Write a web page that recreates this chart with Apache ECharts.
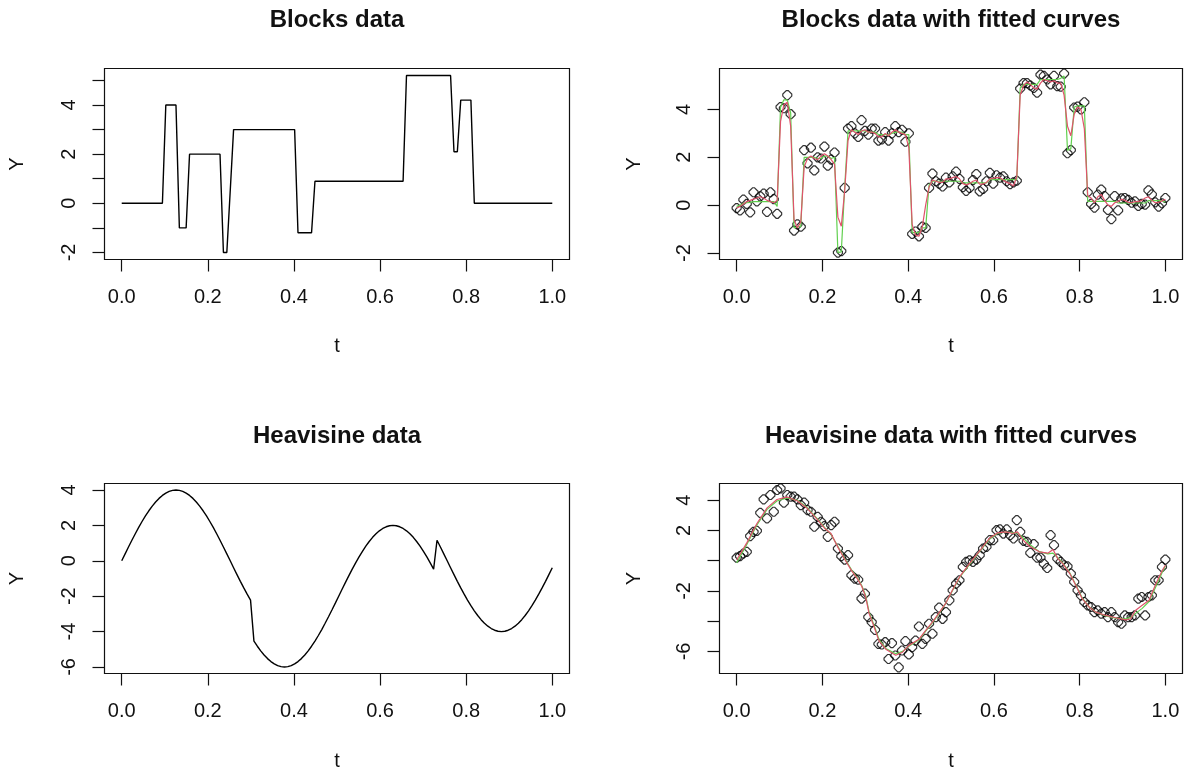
<!DOCTYPE html>
<html>
<head>
<meta charset="utf-8">
<script src="https://cdn.jsdelivr.net/npm/echarts@6/dist/echarts.min.js"></script>
<style>
html,body{margin:0;padding:0;background:#fff;}
#chart{width:1184px;height:771px;}
</style>
</head>
<body>
<div id="chart"></div>
<script>
// ---- sample grid (128 equally spaced t values, plotted from 0 to 1) ----
const tGrid = [
0.0000,0.0079,0.0157,0.0236,0.0315,0.0394,0.0472,0.0551,
0.0630,0.0709,0.0787,0.0866,0.0945,0.1024,0.1102,0.1181,
0.1260,0.1339,0.1417,0.1496,0.1575,0.1654,0.1732,0.1811,
0.1890,0.1969,0.2047,0.2126,0.2205,0.2283,0.2362,0.2441,
0.2520,0.2598,0.2677,0.2756,0.2835,0.2913,0.2992,0.3071,
0.3150,0.3228,0.3307,0.3386,0.3465,0.3543,0.3622,0.3701,
0.3780,0.3858,0.3937,0.4016,0.4094,0.4173,0.4252,0.4331,
0.4409,0.4488,0.4567,0.4646,0.4724,0.4803,0.4882,0.4961,
0.5039,0.5118,0.5197,0.5276,0.5354,0.5433,0.5512,0.5591,
0.5669,0.5748,0.5827,0.5906,0.5984,0.6063,0.6142,0.6220,
0.6299,0.6378,0.6457,0.6535,0.6614,0.6693,0.6772,0.6850,
0.6929,0.7008,0.7087,0.7165,0.7244,0.7323,0.7402,0.7480,
0.7559,0.7638,0.7717,0.7795,0.7874,0.7953,0.8031,0.8110,
0.8189,0.8268,0.8346,0.8425,0.8504,0.8583,0.8661,0.8740,
0.8819,0.8898,0.8976,0.9055,0.9134,0.9213,0.9291,0.9370,
0.9449,0.9528,0.9606,0.9685,0.9764,0.9843,0.9921,1.0000
];

// ---- Blocks: true signal ----
const blocksTrue = [
0,0,0,0,0,0,0,0,
0,0,0,0,0,4,4,4,
4,-1,-1,-1,2,2,2,2,
2,2,2,2,2,2,-2,-2,
0.5,3,3,3,3,3,3,3,
3,3,3,3,3,3,3,3,
3,3,3,3,-1.2,-1.2,-1.2,-1.2,
-1.2,0.9,0.9,0.9,0.9,0.9,0.9,0.9,
0.9,0.9,0.9,0.9,0.9,0.9,0.9,0.9,
0.9,0.9,0.9,0.9,0.9,0.9,0.9,0.9,
0.9,0.9,0.9,0.9,5.2,5.2,5.2,5.2,
5.2,5.2,5.2,5.2,5.2,5.2,5.2,5.2,
5.2,5.2,2.1,2.1,4.2,4.2,4.2,4.2,
0,0,0,0,0,0,0,0,
0,0,0,0,0,0,0,0,
0,0,0,0,0,0,0,0
];

// ---- Blocks: noisy observations ----
const blocksNoisy = [
-0.12,-0.22,0.23,0.05,-0.30,0.54,0.16,0.37,
0.48,-0.28,0.54,0.25,-0.36,4.10,4.05,4.60,
3.80,-1.06,-0.80,-0.90,2.30,1.75,2.40,1.45,
2.00,1.95,2.45,1.65,1.90,2.20,-1.98,-1.92,
0.72,3.20,3.30,3.00,2.85,3.55,3.10,2.95,
3.20,3.20,2.70,2.75,3.05,2.70,3.00,3.30,
3.05,3.15,2.65,3.00,-1.20,-1.10,-1.30,-0.90,
-0.95,0.72,1.32,1.00,0.90,0.78,1.15,0.95,
1.20,1.40,1.10,0.75,0.60,0.72,1.05,1.30,
0.58,0.68,1.00,1.35,0.90,1.25,1.15,1.20,
1.00,0.88,0.95,1.02,4.87,5.10,5.10,5.00,
4.90,4.70,5.45,5.40,5.25,5.05,5.40,4.97,
4.95,5.50,2.17,2.30,4.08,4.12,4.00,4.30,
0.54,0.05,-0.10,0.44,0.65,0.38,-0.20,-0.58,
0.38,-0.22,0.28,0.30,0.22,0.10,0.16,-0.03,
0.05,0.02,0.62,0.45,0.12,-0.06,0.08,0.30
];

// ---- Blocks: fitted curves ----
const blocksFitGreen = [
-0.05,0.00,0.08,0.10,0.12,0.15,0.15,0.15,
0.15,0.15,0.15,0.15,-0.05,4.10,4.40,4.40,
3.85,-0.95,-0.90,-0.90,2.00,2.00,2.00,2.00,
1.95,1.95,2.05,2.05,1.95,2.00,-1.98,-1.95,
0.75,3.10,3.10,3.10,3.10,3.10,3.10,3.05,
3.05,3.05,2.95,2.95,2.95,2.95,3.00,3.05,
3.05,3.05,2.95,2.95,-1.15,-1.15,-1.15,-0.95,
-0.95,0.85,1.00,1.00,1.00,1.00,1.00,1.00,
1.00,1.00,1.00,0.93,0.93,0.93,0.93,0.93,
0.93,0.93,0.93,1.07,1.07,1.07,1.07,1.07,
1.07,1.07,1.07,1.07,4.90,5.05,5.05,5.05,
5.05,5.05,5.25,5.25,5.25,5.25,5.25,5.25,
5.30,5.40,2.30,2.35,4.10,4.15,4.15,4.15,
0.16,0.16,0.16,0.16,0.16,0.16,0.16,0.16,
0.16,0.09,0.09,0.09,0.09,0.09,0.09,0.09,
0.09,0.09,0.19,0.19,0.19,0.19,0.19,0.12
];
const blocksFitRed = [
-0.12,-0.05,0.05,0.15,0.20,0.25,0.30,0.35,
0.30,0.20,0.15,0.10,0.20,3.50,4.20,4.30,
3.30,-0.60,-0.95,-0.70,1.60,1.95,2.05,1.95,
1.90,2.05,2.15,2.05,1.90,1.70,-0.50,-0.88,
0.60,2.70,3.15,3.05,2.95,3.10,3.15,3.05,
3.05,3.00,2.85,2.85,3.00,2.90,3.05,3.15,
3.05,3.00,2.95,2.40,-0.80,-1.25,-1.30,-0.90,
0.00,0.75,1.05,1.00,0.95,0.95,1.10,1.10,
1.15,1.20,1.10,0.90,0.85,0.90,1.00,1.05,
0.88,0.88,0.95,1.10,1.12,1.15,1.15,1.05,
0.95,0.90,0.80,1.20,4.60,5.00,5.15,5.05,
4.90,4.85,5.10,5.25,5.20,5.15,5.20,5.10,
5.10,4.60,3.30,2.90,3.80,4.10,4.00,3.20,
0.40,0.30,0.10,0.35,0.45,0.20,0.00,-0.05,
0.10,0.15,0.25,0.20,0.12,0.10,0.15,0.15,
0.20,0.30,0.35,0.20,0.10,0.12,0.18,0.25
];

// ---- Heavisine: true signal ----
const heaviTrue = [
0,0.392,0.780,1.161,1.531,1.886,2.222,2.538,
2.828,3.092,3.326,3.528,3.696,3.828,3.923,3.981,
4.000,3.981,3.923,3.828,3.696,3.528,3.326,3.092,
2.828,2.538,2.222,1.886,1.531,1.161,0.780,0.392,
0,-0.392,-0.780,-1.161,-1.531,-1.886,-2.222,-4.538,
-4.828,-5.092,-5.326,-5.528,-5.696,-5.828,-5.923,-5.981,
-6.000,-5.981,-5.923,-5.828,-5.696,-5.528,-5.326,-5.092,
-4.828,-4.538,-4.222,-3.886,-3.531,-3.161,-2.780,-2.392,
-2.000,-1.608,-1.220,-0.839,-0.469,-0.114,0.222,0.538,
0.828,1.092,1.326,1.528,1.696,1.828,1.923,1.981,
2.000,1.981,1.923,1.828,1.696,1.528,1.326,1.092,
0.828,0.538,0.222,-0.114,-0.469,1.161,0.780,0.392,
0,-0.392,-0.780,-1.161,-1.531,-1.886,-2.222,-2.538,
-2.828,-3.092,-3.326,-3.528,-3.696,-3.828,-3.923,-3.981,
-4.000,-3.981,-3.923,-3.828,-3.696,-3.528,-3.326,-3.092,
-2.828,-2.538,-2.222,-1.886,-1.531,-1.161,-0.780,-0.392
];

// ---- Heavisine: noisy observations ----
const heaviNoisy = [
0.20,0.30,0.48,0.59,1.63,1.91,1.98,3.17,
4.06,2.80,4.35,3.24,4.68,4.79,3.84,4.35,
4.24,4.24,4.06,3.68,3.84,3.35,3.24,2.25,
2.90,2.58,2.29,1.58,2.36,2.58,0.81,0.30,
0.08,0.37,-0.96,-1.18,-1.25,-2.50,-2.18,-3.73,
-4.06,-4.57,-5.50,-5.54,-5.39,-6.50,-5.45,-6.27,
-7.05,-5.94,-5.32,-6.20,-5.72,-5.28,-4.35,-5.50,
-5.17,-4.17,-4.83,-3.73,-3.10,-3.84,-3.40,-2.62,
-1.96,-1.52,-1.29,-0.41,-0.08,0.03,-0.08,0.08,
0.37,0.81,0.92,1.36,1.36,2.02,2.07,1.80,
2.07,1.69,1.47,2.69,1.91,1.32,1.25,0.52,
1.10,0.21,0.21,-0.20,-0.48,1.69,1.03,0.14,
-0.08,-0.30,-0.37,-0.85,-1.40,-1.96,-2.29,-2.73,
-2.95,-3.06,-3.40,-3.29,-3.50,-3.40,-3.73,-3.40,
-3.73,-4.06,-4.17,-3.62,-3.73,-3.73,-3.62,-2.51,
-2.40,-3.62,-2.40,-2.29,-1.29,-1.29,-0.41,0.08
];

// ---- Heavisine: fitted curves (vertices) ----
const heaviFitT = [0,0.024,0.047,0.071,0.094,0.118,0.142,0.165,0.189,0.205,0.220,0.236,0.252,0.268,0.283,0.292,0.301,0.309,0.321,0.332,0.348,0.371,0.387,0.402,0.425,0.441,0.457,0.472,0.488,0.504,0.520,0.543,0.565,0.589,0.608,0.628,0.644,0.655,0.667,0.683,0.706,0.726,0.738,0.749,0.761,0.777,0.793,0.806,0.822,0.838,0.861,0.884,0.908,0.919,0.930,0.946,0.962,0.978,0.993,1.000];
const heaviFitRed = [0.05,1.2,2.45,3.5,4.05,4.22,3.95,3.45,2.7,2.15,1.8,0.9,0.1,-0.65,-1.25,-1.7,-2.4,-3.5,-4.4,-5.3,-5.85,-6.25,-6.05,-5.6,-5.2,-4.6,-4.05,-3.45,-2.8,-1.9,-1.07,-0.19,0.59,1.47,1.84,1.91,1.8,1.91,1.4,0.96,0.59,0.5,0.75,0.14,-0.19,-0.85,-1.74,-2.51,-3.06,-3.4,-3.62,-3.77,-3.91,-3.84,-3.29,-2.95,-2.62,-1.52,-0.63,-0.3];
const heaviFitGreen = [-0.14,1.1,2.35,3.4,3.95,4.15,4.0,3.5,2.75,2.2,1.75,0.95,0.15,-0.6,-1.2,-1.65,-2.3,-3.4,-4.3,-5.2,-5.8,-6.15,-6.0,-5.65,-5.25,-4.65,-4.1,-3.5,-2.8,-1.95,-1.1,-0.25,0.55,1.4,1.8,1.9,1.85,1.85,1.55,1.1,0.6,0.45,0.5,0.2,-0.15,-0.8,-1.7,-2.45,-3.05,-3.4,-3.65,-3.8,-3.85,-3.75,-3.5,-3.15,-2.7,-1.7,-0.75,-0.35];

// ---- tick values / labels ----
const xTicks = [0, 0.2, 0.4, 0.6, 0.8, 1.0];
const blocksYTicks = [-2, -1, 0, 1, 2, 3, 4, 5];
const blocksYLabels = [-2, 0, 2, 4];
const blocksFitYTicks = [-2, 0, 2, 4];
const blocksFitYLabels = [-2, 0, 2, 4];
const heaviYTicks = [-6, -4, -2, 0, 2, 4];
const heaviYLabels = [-6, -4, -2, 0, 2, 4];
const heaviFitYTicks = [-6, -4, -2, 0, 2, 4];
const heaviFitYLabels = [-6, -2, 2, 4];

const titles = ['Blocks data', 'Blocks data with fitted curves', 'Heavisine data', 'Heavisine data with fitted curves'];
const xName = 't';
const yName = 'Y';

// ---- layout ----
const FONT = '"Liberation Sans", Arial, Helvetica, sans-serif';
const RED = '#DF536B', GREEN = '#61D04F';
const panels = [
  {left:104.5, top:68.5, width:465, height:191, ymin:-2.288, ymax:5.488, yTicks:blocksYTicks,   yLabels:blocksYLabels},
  {left:719.5, top:68.5, width:463, height:191, ymin:-2.27,  ymax:5.71,  yTicks:blocksFitYTicks, yLabels:blocksFitYLabels},
  {left:104.5, top:483.5, width:465, height:190, ymin:-6.37,  ymax:4.37,  yTicks:heaviYTicks,    yLabels:heaviYLabels},
  {left:719.5, top:483.5, width:463, height:190, ymin:-7.46,  ymax:5.11,  yTicks:heaviFitYTicks, yLabels:heaviFitYLabels}
];

const grids = panels.map(p => ({
  left: p.left, top: p.top, width: p.width, height: p.height,
  show: true, borderColor: '#111', borderWidth: 1.2, backgroundColor: 'transparent', containLabel: false
}));
const xAxes = panels.map((p, k) => ({
  type: 'value', gridIndex: k, min: -0.04, max: 1.04, position: 'bottom',
  axisLine: {show: false, onZero: false},
  splitLine: {show: false},
  axisTick: {show: true, inside: false, length: 12, customValues: xTicks, lineStyle: {color: '#111', width: 1.2}},
  axisLabel: {show: true, customValues: xTicks, margin: 28, fontSize: 20, fontFamily: FONT, color: '#111',
              formatter: v => Number(v).toFixed(1)}
}));
const yAxes = panels.map((p, k) => ({
  type: 'value', gridIndex: k, min: p.ymin, max: p.ymax, position: 'left',
  axisLine: {show: false, onZero: false},
  splitLine: {show: false},
  axisTick: {show: true, inside: false, length: 12, customValues: p.yTicks, lineStyle: {color: '#111', width: 1.2}},
  axisLabel: {show: true, customValues: p.yLabels, rotate: 90, margin: 25, fontSize: 20, fontFamily: FONT, color: '#111',
              formatter: v => String(Math.round(v))}
}));

const pairs = (xs, ys) => xs.map((x, i) => [x, ys[i]]);
const POINT = 'path://M3.5,0 L5.5,0 L9,3.5 L9,5.5 L5.5,9 L3.5,9 L0,5.5 L0,3.5 Z';
const lineSeries = (k, data, color, width) => ({
  type: 'line', xAxisIndex: k, yAxisIndex: k, data, showSymbol: false, symbol: 'none',
  lineStyle: {color, width}, itemStyle: {color}, silent: true, animation: false
});
const pointSeries = (k, data) => ({
  type: 'scatter', xAxisIndex: k, yAxisIndex: k, data, symbol: POINT, symbolSize: 9,
  itemStyle: {color: 'rgba(0,0,0,0)', borderColor: '#000', borderWidth: 1.2}, silent: true, animation: false
});

const series = [
  lineSeries(0, pairs(tGrid, blocksTrue), '#000', 1.4),
  pointSeries(1, pairs(tGrid, blocksNoisy)),
  lineSeries(1, pairs(tGrid, blocksFitGreen), GREEN, 1.2),
  lineSeries(1, pairs(tGrid, blocksFitRed), RED, 1.2),
  lineSeries(2, pairs(tGrid, heaviTrue), '#000', 1.4),
  pointSeries(3, pairs(tGrid, heaviNoisy)),
  lineSeries(3, pairs(heaviFitT, heaviFitGreen), GREEN, 1.2),
  lineSeries(3, pairs(heaviFitT, heaviFitRed), RED, 1.2)
];

// ---- text (titles, axis names) ----
const txt = (text, x, y, size, weight, rot) => ({
  type: 'text', x, y, rotation: rot || 0, silent: true,
  style: {text, fontSize: size, fontWeight: weight, fontFamily: FONT, fill: '#111',
          textAlign: 'center', align: 'center', textVerticalAlign: 'middle', verticalAlign: 'middle'}
});
const graphics = [];
panels.forEach((p, k) => {
  const cx = p.left + p.width / 2;
  const cy = p.top + p.height / 2;
  const titleY = k < 2 ? 20.5 : 436.7;
  const xNameY = k < 2 ? 346.7 : 761;
  const yNameX = (k % 2 === 0) ? 17 : 634;
  graphics.push(txt(titles[k], cx, titleY, 24, 'bold'));
  graphics.push(txt(xName, cx, xNameY, 20, 'normal'));
  graphics.push(txt(yName, yNameX, cy, 20, 'normal', Math.PI / 2));
});

const chart = echarts.init(document.getElementById('chart'), null, {renderer: 'canvas', width: 1184, height: 771});
chart.setOption({
  animation: false,
  backgroundColor: '#fff',
  grid: grids,
  xAxis: xAxes,
  yAxis: yAxes,
  series,
  graphic: graphics
});
</script>
</body>
</html>
